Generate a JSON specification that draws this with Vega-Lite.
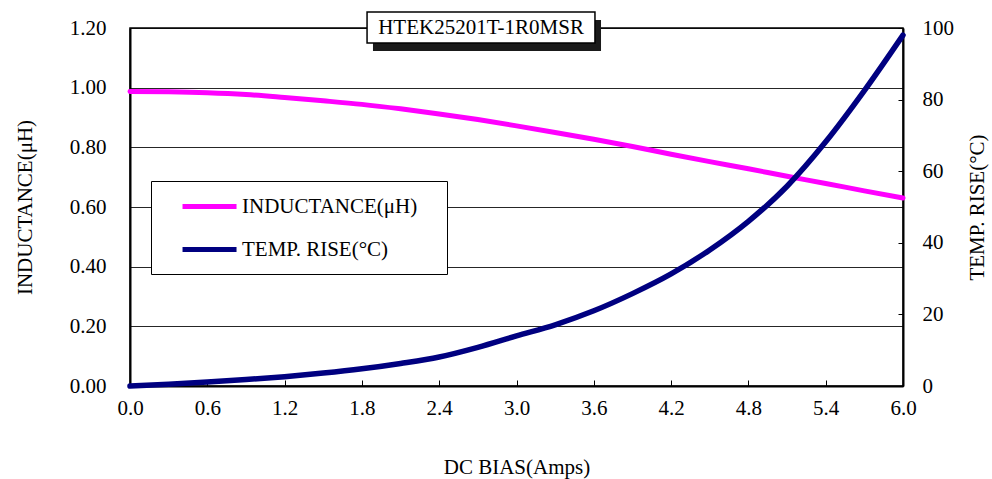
{
  "$schema": "https://vega.github.io/schema/vega-lite/v6.json",
  "width": 773,
  "height": 358,
  "autosize": {"type": "none"},
  "padding": {"left": 130, "top": 28, "right": 89, "bottom": 93},
  "background": "white",
  "config": {
    "font": "Liberation Serif",
    "view": {"stroke": "black", "strokeWidth": 1.5},
    "axis": {
      "labelFont": "Liberation Serif",
      "titleFont": "Liberation Serif",
      "labelFontSize": 21,
      "titleFontSize": 21,
      "titleFontWeight": "normal",
      "labelColor": "black",
      "titleColor": "black",
      "domainColor": "black",
      "domainWidth": 2,
      "tickColor": "black",
      "tickWidth": 1,
      "labelFlush": false
    }
  },
  "datasets": {
    "ind": [
      {"x": 0.0, "L": 0.987},
      {"x": 0.3, "L": 0.986},
      {"x": 0.6, "L": 0.983},
      {"x": 0.9, "L": 0.977},
      {"x": 1.2, "L": 0.967},
      {"x": 1.5, "L": 0.956},
      {"x": 1.8, "L": 0.944},
      {"x": 2.1, "L": 0.929},
      {"x": 2.4, "L": 0.912},
      {"x": 2.7, "L": 0.893},
      {"x": 3.0, "L": 0.872},
      {"x": 3.3, "L": 0.850},
      {"x": 3.6, "L": 0.827},
      {"x": 3.9, "L": 0.803},
      {"x": 4.2, "L": 0.777},
      {"x": 4.5, "L": 0.752},
      {"x": 4.8, "L": 0.728},
      {"x": 5.1, "L": 0.703},
      {"x": 5.4, "L": 0.679},
      {"x": 5.7, "L": 0.654},
      {"x": 6.0, "L": 0.630}
    ],
    "temp": [
      {"x": 0.0, "T": 0.0},
      {"x": 0.3, "T": 0.5},
      {"x": 0.6, "T": 1.1},
      {"x": 0.9, "T": 1.8},
      {"x": 1.2, "T": 2.6},
      {"x": 1.5, "T": 3.6},
      {"x": 1.8, "T": 4.8},
      {"x": 2.1, "T": 6.3},
      {"x": 2.4, "T": 8.1},
      {"x": 2.7, "T": 10.8},
      {"x": 3.0, "T": 14.0},
      {"x": 3.3, "T": 17.1},
      {"x": 3.6, "T": 21.0},
      {"x": 3.9, "T": 25.8},
      {"x": 4.2, "T": 31.3},
      {"x": 4.5, "T": 38.0},
      {"x": 4.8, "T": 46.0},
      {"x": 5.1, "T": 55.8},
      {"x": 5.4, "T": 68.2},
      {"x": 5.7, "T": 82.5},
      {"x": 6.0, "T": 98.0}
    ],
    "hdr": [{"label": "HTEK25201T-1R0MSR"}]
  },
  "layer": [
    {
      "layer": [
        {
          "data": {"name": "ind"},
          "mark": {"type": "line", "strokeWidth": 5, "interpolate": "monotone", "strokeCap": "round"},
          "encoding": {
            "x": {
              "field": "x",
              "type": "quantitative",
              "scale": {"domain": [0, 6], "nice": false, "zero": false},
              "axis": {
                "title": "DC BIAS(Amps)",
                "values": [0, 0.6, 1.2, 1.8, 2.4, 3.0, 3.6, 4.2, 4.8, 5.4, 6.0],
                "format": ".1f",
                "grid": false,
                "tickSize": -6,
                "labelPadding": 17,
                "titlePadding": 38
              }
            },
            "y": {
              "field": "L",
              "type": "quantitative",
              "scale": {"domain": [0, 1.2], "nice": false},
              "axis": {
                "title": "INDUCTANCE(μH)",
                "orient": "left",
                "values": [0, 0.2, 0.4, 0.6, 0.8, 1.0, 1.2],
                "format": ".2f",
                "grid": true,
                "gridColor": "black",
                "gridWidth": 1,
                "gridOpacity": 0.85,
                "tickSize": 0,
                "labelPadding": 24,
                "titlePadding": 34
              }
            },
            "color": {
              "datum": "INDUCTANCE(μH)",
              "type": "nominal",
              "scale": {
                "domain": ["INDUCTANCE(μH)", "TEMP. RISE(°C)"],
                "range": ["#FF00FF", "#000080"]
              },
              "legend": {
                "title": null,
                "orient": "none",
                "legendX": 21,
                "legendY": 153,
                "padding": 14,
                "rowPadding": 21,
                "symbolType": "M0.67,0H6.67",
                "symbolSize": 324,
                "symbolStrokeWidth": 5,
                "labelOffset": 54,
                "labelFontSize": 21,
                "labelFont": "Liberation Serif",
                "labelColor": "black",
                "labelLimit": 400,
                "labelExpr": "datum.label + '\u2800'",
                "strokeColor": "black",
                "fillColor": "white",
                "cornerRadius": 0
              }
            }
          }
        },
        {
          "data": {"name": "hdr"},
          "mark": {"type": "rect", "fill": "#1a1a1a"},
          "encoding": {
            "x": {"datum": 1.886, "type": "quantitative"},
            "x2": {"datum": 3.656},
            "y": {"datum": 1.2268, "type": "quantitative"},
            "y2": {"datum": 1.1229}
          }
        },
        {
          "data": {"name": "hdr"},
          "mark": {"type": "rect", "fill": "white", "stroke": "black", "strokeWidth": 1.5},
          "encoding": {
            "x": {"datum": 1.840, "type": "quantitative"},
            "x2": {"datum": 3.609},
            "y": {"datum": 1.2536, "type": "quantitative"},
            "y2": {"datum": 1.1497}
          }
        },
        {
          "data": {"name": "hdr"},
          "mark": {"type": "text", "fontSize": 21, "font": "Liberation Serif", "color": "black", "baseline": "middle", "align": "center"},
          "encoding": {
            "x": {"datum": 2.725, "type": "quantitative"},
            "y": {"datum": 1.2, "type": "quantitative"},
            "text": {"field": "label"}
          }
        }
      ]
    },
    {
      "data": {"name": "temp"},
      "mark": {"type": "line", "strokeWidth": 5.5, "interpolate": "monotone", "strokeCap": "round"},
      "encoding": {
        "x": {"field": "x", "type": "quantitative"},
        "y": {
          "field": "T",
          "type": "quantitative",
          "scale": {"domain": [0, 100], "nice": false},
          "axis": {
            "title": "TEMP. RISE(°C)",
            "orient": "right",
            "values": [0, 20, 40, 60, 80, 100],
            "format": "d",
            "grid": false,
            "tickSize": -5,
            "labelPadding": 24,
            "titlePadding": 34,
            "titleAngle": 270
          }
        },
        "color": {"datum": "TEMP. RISE(°C)", "type": "nominal"}
      }
    }
  ],
  "resolve": {"scale": {"y": "independent"}}
}
